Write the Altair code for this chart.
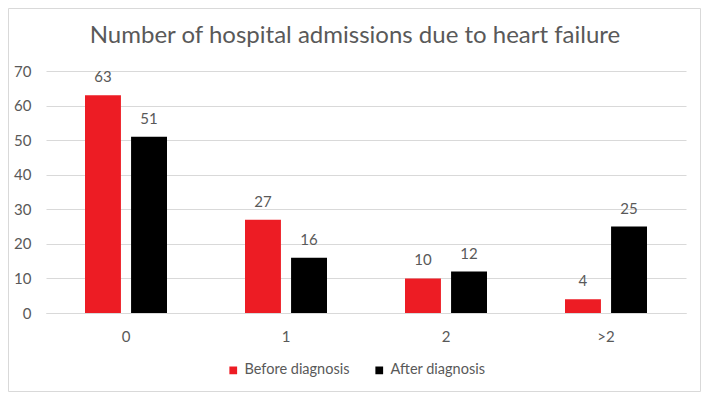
import altair as alt
import pandas as pd

categories = ["0", "1", "2", ">2"]
series = ["Before diagnosis", "After diagnosis"]
before = [63, 27, 10, 4]
after = [51, 16, 12, 25]
colors = ["#ED1C24", "#000000"]
y_ticks = [0, 10, 20, 30, 40, 50, 60, 70]
title_text = "Number of hospital admissions due to heart failure"

rows = []
for c, b, a in zip(categories, before, after):
    rows.append({"cat": c, "series": series[0], "value": b})
    rows.append({"cat": c, "series": series[1], "value": a})
df = pd.DataFrame(rows)

FONT = "Lato"
GRAY = "#595959"
GRID = "#d9d9d9"

x = alt.X(
    "cat:N", sort=categories, title=None,
    scale=alt.Scale(paddingInner=0.4875, paddingOuter=0.24375),
    axis=alt.Axis(labelAngle=0, labelFontSize=15, labelColor=GRAY, labelPadding=16,
                  ticks=False, domainColor=GRID, labelFont=FONT, grid=False),
)
xo = alt.XOffset("series:N", sort=series, scale=alt.Scale(paddingInner=0.22, paddingOuter=0))
y = alt.Y(
    "value:Q", title=None, scale=alt.Scale(domain=[0, 70]),
    axis=alt.Axis(values=y_ticks, labelFontSize=15, labelColor=GRAY, labelFont=FONT,
                  labelPadding=15, ticks=False, domain=False, gridColor=GRID),
)
color = alt.Color(
    "series:N", sort=series, scale=alt.Scale(domain=series, range=colors),
    legend=alt.Legend(title=None, orient="none", direction="horizontal", legendX=180, legendY=292,
                      symbolType="square", symbolSize=60, symbolStrokeWidth=0,
                      labelFontSize=14.5, labelColor=GRAY, labelFont=FONT, columnPadding=22,
                      labelOffset=4),
)

base = alt.Chart(df)
bars = base.mark_bar().encode(x=x, xOffset=xo, y=y, color=color)
labels = base.mark_text(dy=-10, baseline="bottom", fontSize=15, font=FONT, color=GRAY).encode(
    x=x, xOffset=xo, y=y, text="value:Q"
)
border = alt.Chart(pd.DataFrame({"a": [0]})).mark_rect(
    filled=False, stroke=GRID, strokeWidth=1
).encode(x=alt.value(-37.5), x2=alt.value(654.5), y=alt.value(-62.5), y2=alt.value(320.5))

chart = alt.layer(border, bars, labels).properties(
    width=640, height=242,
    title=alt.TitleParams(title_text, fontSize=24, font=FONT, color=GRAY, fontWeight="normal",
                          anchor="middle", offset=-40, dx=-11),
    autosize=alt.AutoSizeParams(type="none"),
    padding={"left": 38, "top": 63, "right": 15, "bottom": 79},
).configure_view(strokeWidth=0)

chart.save("out.html", embed_options={"renderer": "svg", "actions": False})
